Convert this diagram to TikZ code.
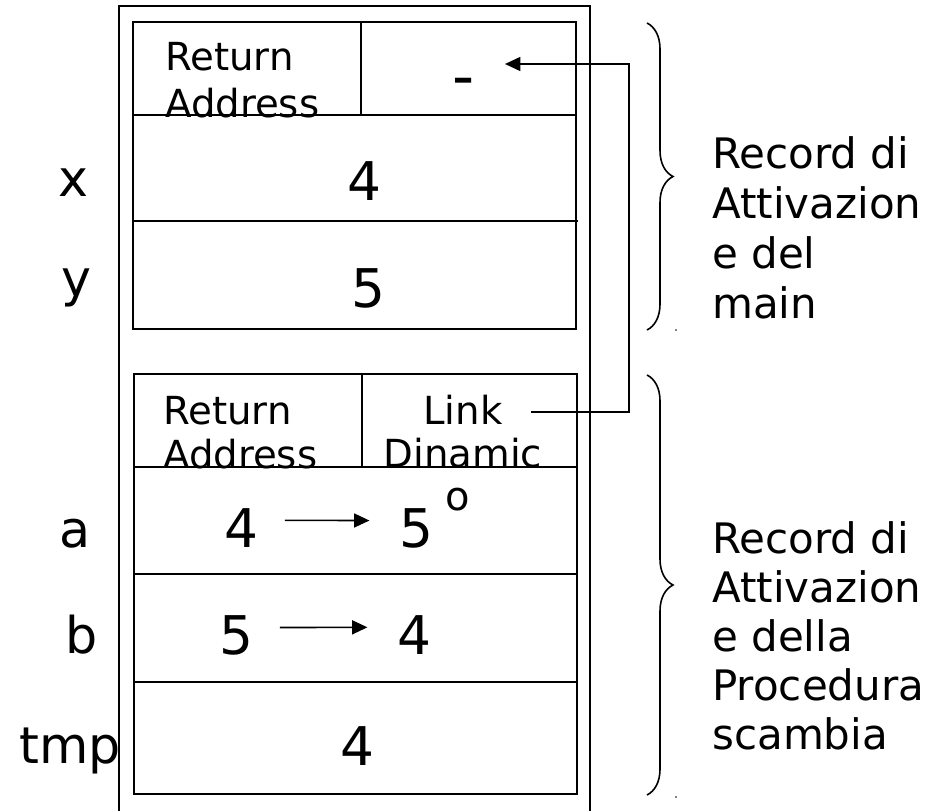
\documentclass[tikz,border=0pt]{standalone}
\usepackage{fontspec}
\setmainfont{DejaVu Sans}
\usetikzlibrary{arrows.meta,decorations.pathreplacing}

\begin{document}
\begin{tikzpicture}[x=0.75pt,y=-0.75pt,
  frame/.style={draw,line width=1.3pt},
  cellline/.style={line width=1.2pt},
  num/.style={inner sep=0pt,anchor=base,font=\fontsize{40}{40}\selectfont},
  varname/.style={inner sep=0pt,anchor=base,font=\fontsize{38}{38}\selectfont},
  small/.style={inner sep=0pt,font=\fontsize{29}{29}\selectfont},
  note/.style={inner sep=0pt,anchor=base west,font=\fontsize{31.5}{31.5}\selectfont},
  arr/.style={line width=1.2pt,-{Triangle[length=11.5pt,width=10.5pt]}},
  curly/.style={line width=1.2pt,decorate,decoration={brace,amplitude=19.5pt}}]
\useasboundingbox (0,0) rectangle (944,810);

% stack area
\draw[frame] (119,815) -- (119,6) -- (590,6) -- (590,815);

% activation record of main
\draw[frame] (133,22) rectangle (576,329);
\draw[cellline] (133,115) -- (577,115);
\draw[cellline] (133,221) -- (578,221);
\draw[cellline] (361,22) -- (361,115);

\node[small,anchor=base west] (raTop1) at (165,70) {Return};
\node[small,anchor=base west] (raTop2) at (165,117) {Address};
\node[inner sep=0pt,anchor=base,font=\fontsize{46}{46}\selectfont] (dlTop) at (464,97) {-};
\node[num] (xval) at (364,200) {4};
\node[num] (yval) at (368,307) {5};
\node[varname] (xname) at (73,196) {x};
\node[varname] (yname) at (76,296) {y};

% activation record of scambia
\draw[frame] (134,374) rectangle (577,794);
\draw[cellline] (134,467) -- (577,467);
\draw[cellline] (134,574) -- (578,574);
\draw[cellline] (134,682) -- (578,682);
\draw[cellline] (362,374) -- (362,467);

\node[small,anchor=base west] (raBot1) at (163,424) {Return};
\node[small,anchor=base west] (raBot2) at (163,468) {Address};
\node[small,anchor=base] (dl1) at (463,424) {Link};
\node[small,anchor=base] (dl2) at (463,467) {Dinamic};

\node[num] (aold) at (241,547) {4};
\node[num] (anew) at (416,547) {5};
\node[inner sep=0pt,font=\fontsize{30}{30}\selectfont] (amark) at (458,500) {o};
\node[num] (bold) at (236,654) {5};
\node[num] (bnew) at (414,654) {4};
\node[num] (tval) at (357,765) {4};
\node[varname] (aname) at (75,547) {a};
\node[varname] (bname) at (82,653) {b};
\node[varname] (tname) at (70,763) {tmp};

% value changes made by the swap
\draw[arr,shorten <=20pt,shorten >=22pt] ([yshift=5.5pt]aold.east) -- ([yshift=5.5pt]anew.west);
\draw[arr,shorten <=20pt,shorten >=22pt] ([yshift=5.5pt]bold.east) -- ([yshift=5.5pt]bnew.west);

% dynamic link
\coordinate (linkout) at (531,412);
\coordinate (linkin) at (505,64);
\draw[arr] (linkout) -- (629,412) |- (linkin);

% braces and captions
\draw[curly] (647,23) -- (647,330);
\draw[curly] (647,375) -- (647,795);
\fill (676,330) circle (0.9);
\fill (676,797) circle (0.9);

\node[note] (m1) at (712,168) {Record di};
\node[note] (m2) at (712,218) {Attivazion};
\node[note] (m3) at (712,268) {e del};
\node[note] (m4) at (712,318) {main};

\node[note] (p1) at (712,553) {Record di};
\node[note] (p2) at (712,602) {Attivazion};
\node[note] (p3) at (712,651) {e della};
\node[note] (p4) at (712,700) {Procedura};
\node[note] (p5) at (712,749) {scambia};
\end{tikzpicture}
\end{document}
